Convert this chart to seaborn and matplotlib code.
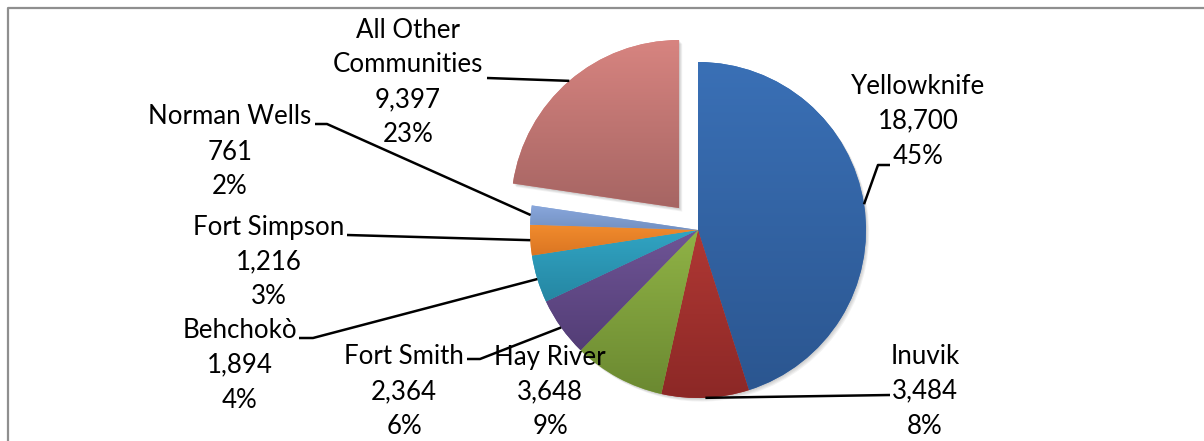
import numpy as np
import matplotlib
matplotlib.use("Agg")
import matplotlib.pyplot as plt
from matplotlib.patches import Wedge
from matplotlib.colors import LinearSegmentedColormap
import seaborn as sns

# Population by community
communities = ["Yellowknife", "Inuvik", "Hay River", "Fort Smith", "Behchokò",
               "Fort Simpson", "Norman Wells", "All Other\nCommunities"]
population = [18700, 3484, 3648, 2364, 1894, 1216, 761, 9397]
share_pct = [45, 8, 9, 6, 4, 3, 2, 23]

sns.set_theme(style="white")
plt.rcParams["font.family"] = ["Lato", "DejaVu Sans"]

# Vertical gradient (top, bottom) for each slice
gradients = [("#3A70B6", "#2B5690"), ("#B03834", "#8C2826"),
             ("#90B346", "#6B8931"), ("#6F5596", "#533D76"),
             ("#31A4C3", "#2586A2"), ("#F18B2D", "#DA7522"),
             ("#8AA8DC", "#7290C2"), ("#D78480", "#A66563")]
palette = sns.color_palette([g[0] for g in gradients])

W, H = 1204, 441
fig = plt.figure(figsize=(W / 100, H / 100), dpi=100)
ax = fig.add_axes([0, 0, 1, 1])

cx, cy, R = 698, H - 230, 168
explode = [0, 0, 0, 0, 0, 0, 0, 29]

wedges, _ = ax.pie(population, startangle=90, counterclock=False, radius=R,
                   center=(cx, cy), explode=explode, colors=palette,
                   wedgeprops=dict(linewidth=0))

# soft drop shadow beneath the slices
for w in wedges:
    for k in (1, 2, 3, 4):
        sh = Wedge((w.center[0] + k * 0.8, w.center[1] - k * 0.9), w.r,
                   w.theta1, w.theta2, facecolor="black", alpha=0.05,
                   linewidth=0, zorder=0.5)
        ax.add_patch(sh)

# gradient fill clipped to each slice
ramp = np.linspace(0, 1, 256)[:, None]
for w, (top, bot) in zip(wedges, gradients):
    w.set_zorder(1)
    ext = w.get_path().get_extents()
    cmap = LinearSegmentedColormap.from_list("g", [bot, top])
    im = ax.imshow(ramp, extent=(ext.x0, ext.x1, ext.y0, ext.y1),
                   origin="lower", cmap=cmap, aspect="auto", zorder=1.5,
                   interpolation="bilinear")
    im.set_clip_path(w)

ax.set_xlim(0, W)
ax.set_ylim(0, H)
ax.set_aspect("auto")
ax.axis("off")

# label layout: (centre x, first-line y) in pixel rows from the top
label_pos = [(918, 86), (925, 356), (550, 357), (404, 357), (240, 330),
             (269, 227), (230, 117), (408, 30)]
# leader line points after the slice anchor (pixel rows from the top)
leaders = [[(878, 165), (890, 165)], [(890, 395)], [], [(480, 359), (467, 359)],
           [(313, 338), (299, 338)], [(347, 235)], [(327, 124), (315, 124)],
           [(487, 78)]]

step = 35
for name, val, pct, (lx, ly), w, pts in zip(communities, population, share_pct,
                                             label_pos, wedges, leaders):
    lines = name.split("\n") + [f"{val:,}", f"{pct}%"]
    for i, line in enumerate(lines):
        ax.text(lx, H - (ly + i * step), line, ha="center", va="center",
                fontsize=18.6, color="black", zorder=5)
    if pts:
        t = np.radians((w.theta1 + w.theta2) / 2)
        ax_pt = (w.center[0] + w.r * np.cos(t), w.center[1] + w.r * np.sin(t))
        xs = [ax_pt[0]] + [p[0] for p in pts]
        ys = [ax_pt[1]] + [H - p[1] for p in pts]
        ax.plot(xs, ys, color="black", lw=1.8, zorder=4,
                solid_capstyle="butt")

# chart frame (open at right and bottom)
ax.plot([8, 8, W + 5], [-5, H - 8, H - 8], color="#8f8f8f", lw=1.6,
        clip_on=False, zorder=6)

fig.savefig("out.png", dpi=100)
